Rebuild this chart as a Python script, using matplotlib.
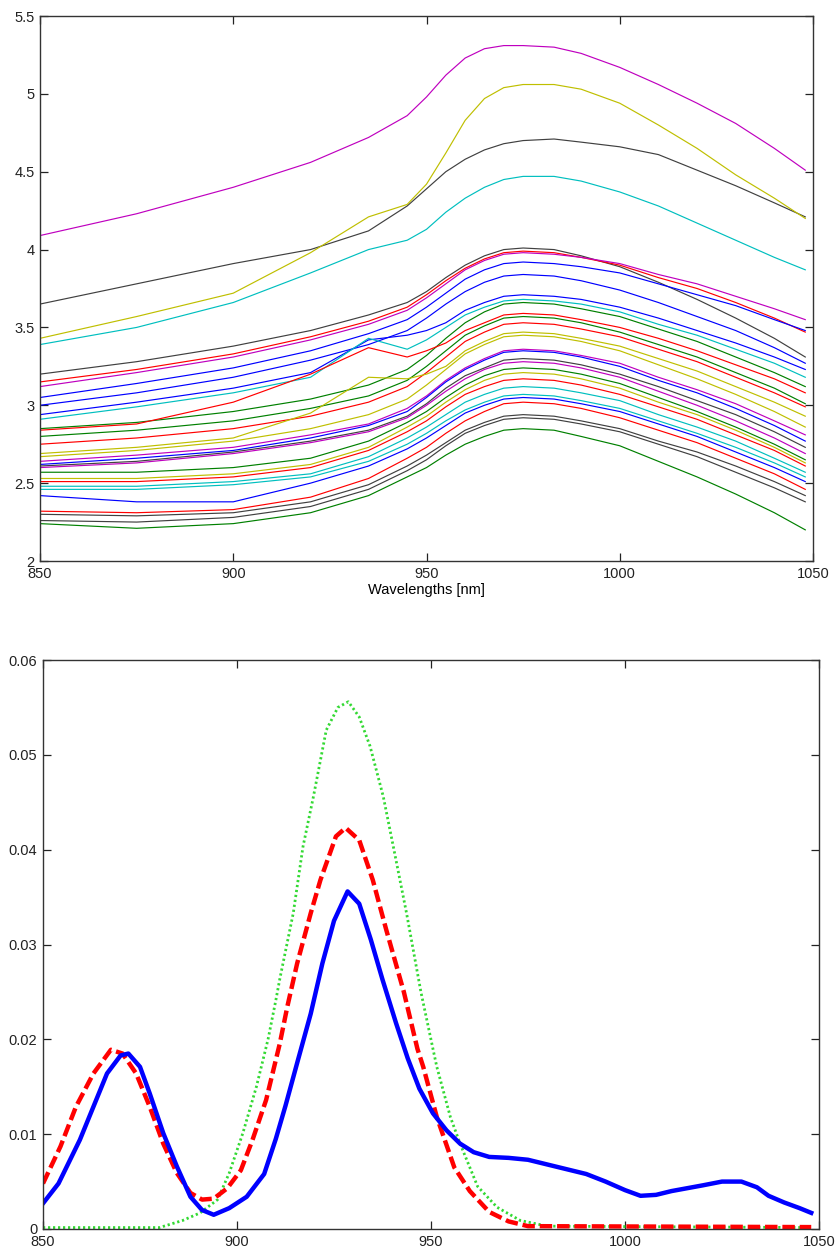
import matplotlib
matplotlib.use("Agg")
import matplotlib.pyplot as plt

plt.rcParams['font.family'] = ['Liberation Sans', 'DejaVu Sans']

# ---------------- top panel data ----------------
wavelengths_top = [850, 875, 900, 920, 935, 945, 950, 955, 960, 965, 970, 975, 983, 990,
                   1000, 1010, 1020, 1030, 1040, 1048]

s01 = [4.09, 4.23, 4.40, 4.56, 4.72, 4.86, 4.98, 5.12, 5.23, 5.29, 5.31, 5.31, 5.30, 5.26, 5.17, 5.06, 4.94, 4.81, 4.65, 4.51]
s02 = [3.65, 3.78, 3.91, 4.00, 4.12, 4.28, 4.39, 4.50, 4.58, 4.64, 4.68, 4.70, 4.71, 4.69, 4.66, 4.61, 4.51, 4.41, 4.30, 4.21]
s03 = [3.43, 3.57, 3.72, 3.98, 4.21, 4.29, 4.42, 4.62, 4.83, 4.97, 5.04, 5.06, 5.06, 5.03, 4.94, 4.80, 4.65, 4.48, 4.33, 4.20]
s04 = [3.39, 3.50, 3.66, 3.85, 4.00, 4.06, 4.13, 4.24, 4.33, 4.40, 4.45, 4.47, 4.47, 4.44, 4.37, 4.28, 4.17, 4.06, 3.95, 3.87]
s05 = [3.20, 3.28, 3.38, 3.48, 3.58, 3.66, 3.73, 3.82, 3.90, 3.96, 4.00, 4.01, 4.00, 3.96, 3.89, 3.79, 3.68, 3.56, 3.43, 3.31]
s06 = [3.15, 3.23, 3.33, 3.44, 3.54, 3.63, 3.71, 3.80, 3.88, 3.94, 3.98, 3.99, 3.98, 3.95, 3.90, 3.82, 3.75, 3.66, 3.56, 3.47]
s07 = [3.12, 3.21, 3.31, 3.42, 3.52, 3.61, 3.69, 3.78, 3.87, 3.93, 3.97, 3.98, 3.97, 3.95, 3.91, 3.84, 3.78, 3.70, 3.62, 3.55]
s08 = [3.05, 3.14, 3.24, 3.35, 3.46, 3.55, 3.63, 3.72, 3.81, 3.87, 3.91, 3.92, 3.91, 3.89, 3.85, 3.78, 3.71, 3.64, 3.55, 3.48]
s09 = [3.00, 3.08, 3.18, 3.29, 3.39, 3.48, 3.56, 3.65, 3.73, 3.79, 3.83, 3.84, 3.83, 3.80, 3.74, 3.66, 3.57, 3.48, 3.37, 3.27]
s10 = [2.94, 3.02, 3.11, 3.21, 3.42, 3.45, 3.48, 3.53, 3.61, 3.66, 3.70, 3.71, 3.70, 3.68, 3.63, 3.56, 3.48, 3.40, 3.31, 3.23]
s11 = [2.91, 2.99, 3.08, 3.18, 3.43, 3.36, 3.42, 3.50, 3.58, 3.63, 3.67, 3.68, 3.67, 3.65, 3.60, 3.52, 3.45, 3.36, 3.27, 3.18]
s12 = [2.85, 2.89, 2.96, 3.04, 3.13, 3.23, 3.32, 3.43, 3.53, 3.60, 3.65, 3.66, 3.65, 3.62, 3.57, 3.49, 3.41, 3.31, 3.21, 3.12]
s13 = [2.84, 2.88, 3.02, 3.20, 3.37, 3.31, 3.35, 3.40, 3.48, 3.53, 3.58, 3.59, 3.58, 3.55, 3.50, 3.43, 3.35, 3.26, 3.17, 3.08]
s14 = [2.80, 2.84, 2.90, 2.98, 3.06, 3.16, 3.25, 3.35, 3.45, 3.51, 3.56, 3.57, 3.56, 3.53, 3.47, 3.39, 3.31, 3.21, 3.11, 3.01]
s15 = [2.75, 2.79, 2.85, 2.93, 3.02, 3.12, 3.21, 3.31, 3.41, 3.47, 3.52, 3.53, 3.52, 3.49, 3.44, 3.36, 3.28, 3.18, 3.08, 2.99]
s16 = [2.69, 2.73, 2.79, 2.95, 3.18, 3.17, 3.20, 3.25, 3.35, 3.41, 3.46, 3.47, 3.46, 3.43, 3.38, 3.30, 3.22, 3.12, 3.02, 2.93]
s17 = [2.67, 2.71, 2.77, 2.85, 2.94, 3.04, 3.13, 3.23, 3.33, 3.39, 3.44, 3.45, 3.44, 3.41, 3.35, 3.26, 3.17, 3.07, 2.96, 2.86]
s18 = [2.64, 2.68, 2.73, 2.81, 2.88, 2.98, 3.06, 3.16, 3.24, 3.30, 3.35, 3.36, 3.35, 3.32, 3.27, 3.18, 3.10, 3.01, 2.90, 2.81]
s19 = [2.62, 2.66, 2.71, 2.79, 2.87, 2.96, 3.05, 3.15, 3.23, 3.29, 3.34, 3.35, 3.34, 3.31, 3.25, 3.16, 3.08, 2.98, 2.87, 2.77]
s20 = [2.61, 2.64, 2.70, 2.77, 2.84, 2.93, 3.01, 3.11, 3.19, 3.24, 3.29, 3.30, 3.29, 3.26, 3.20, 3.12, 3.03, 2.94, 2.83, 2.73]
s21 = [2.60, 2.63, 2.69, 2.76, 2.83, 2.92, 3.00, 3.09, 3.17, 3.23, 3.27, 3.28, 3.27, 3.24, 3.18, 3.09, 3.00, 2.90, 2.79, 2.69]
s22 = [2.57, 2.57, 2.60, 2.66, 2.77, 2.89, 2.96, 3.05, 3.13, 3.19, 3.23, 3.24, 3.23, 3.20, 3.14, 3.05, 2.96, 2.86, 2.75, 2.65]
s23 = [2.53, 2.53, 2.56, 2.62, 2.73, 2.86, 2.93, 3.02, 3.10, 3.16, 3.20, 3.21, 3.20, 3.17, 3.11, 3.02, 2.94, 2.84, 2.73, 2.63]
s24 = [2.51, 2.51, 2.54, 2.60, 2.71, 2.83, 2.90, 2.99, 3.07, 3.12, 3.16, 3.17, 3.16, 3.13, 3.07, 2.99, 2.91, 2.81, 2.71, 2.61]
s25 = [2.48, 2.48, 2.51, 2.56, 2.67, 2.79, 2.86, 2.94, 3.02, 3.07, 3.11, 3.12, 3.11, 3.08, 3.03, 2.94, 2.86, 2.77, 2.66, 2.57]
s26 = [2.46, 2.46, 2.49, 2.54, 2.64, 2.75, 2.82, 2.90, 2.97, 3.02, 3.06, 3.07, 3.06, 3.03, 2.98, 2.90, 2.82, 2.73, 2.63, 2.54]
s27 = [2.42, 2.38, 2.38, 2.50, 2.61, 2.72, 2.79, 2.87, 2.95, 3.00, 3.04, 3.05, 3.04, 3.01, 2.96, 2.88, 2.80, 2.70, 2.60, 2.51]
s28 = [2.32, 2.31, 2.33, 2.41, 2.53, 2.66, 2.73, 2.82, 2.90, 2.96, 3.01, 3.02, 3.01, 2.98, 2.92, 2.84, 2.76, 2.66, 2.56, 2.46]
s29 = [2.30, 2.29, 2.31, 2.38, 2.49, 2.61, 2.68, 2.76, 2.84, 2.89, 2.93, 2.94, 2.93, 2.90, 2.85, 2.77, 2.70, 2.61, 2.51, 2.42]
s30 = [2.26, 2.25, 2.28, 2.35, 2.46, 2.58, 2.65, 2.74, 2.82, 2.87, 2.91, 2.92, 2.91, 2.88, 2.83, 2.75, 2.67, 2.57, 2.47, 2.38]
s31 = [2.24, 2.21, 2.24, 2.31, 2.42, 2.54, 2.60, 2.68, 2.75, 2.80, 2.84, 2.85, 2.84, 2.80, 2.74, 2.64, 2.54, 2.43, 2.31, 2.20]

spectra = [s01, s02, s03, s04, s05, s06, s07, s08, s09, s10, s11, s12, s13, s14, s15, s16,
           s17, s18, s19, s20, s21, s22, s23, s24, s25, s26, s27, s28, s29, s30, s31]
spectra_colors = ['m', 'k', 'y', 'c', 'k', 'r', 'm', 'b', 'b', 'b', 'c', 'g', 'r', 'g', 'r', 'y',
                  'y', 'm', 'b', 'k', 'm', 'g', 'y', 'r', 'c', 'c', 'b', 'r', 'k', 'k', 'g']

top_xticks = [850, 900, 950, 1000, 1050]
top_yticks = [2, 2.5, 3, 3.5, 4, 4.5, 5, 5.5]
top_yticklabels = ['2', '2.5', '3', '3.5', '4', '4.5', '5', '5.5']

# ---------------- bottom panel data ----------------
blue_x = [850, 854, 859.5, 863, 866.5, 870, 872, 875, 877.5, 881, 884.5, 888, 891, 894, 898,
          902.5, 907, 910, 912.5, 915.5, 919, 922, 925, 928.5, 931.5, 934.5, 937.5, 941, 944,
          947, 950.5, 954, 957.5, 961, 965, 970, 975, 980, 985, 990, 995, 1000, 1004, 1008,
          1012, 1016, 1020, 1025, 1030, 1034, 1037, 1041, 1045, 1048]
blue_y = [0.0027, 0.0048, 0.0094, 0.0129, 0.0164, 0.0183, 0.0185, 0.0171, 0.0143, 0.0101,
          0.0066, 0.0034, 0.0020, 0.0015, 0.0022, 0.0034, 0.0058, 0.0095, 0.0130, 0.0175,
          0.0227, 0.0280, 0.0325, 0.0356, 0.0343, 0.0305, 0.0263, 0.0217, 0.0180, 0.0148,
          0.0122, 0.0104, 0.0090, 0.0081, 0.0076, 0.0075, 0.0073, 0.0068, 0.0063, 0.0058,
          0.0050, 0.0041, 0.0035, 0.0036, 0.0040, 0.0043, 0.0046, 0.0050, 0.0050, 0.0044,
          0.0035, 0.0028, 0.0022, 0.0017]

red_x = [850, 854.5, 858.5, 863, 867.5, 870.5, 874, 877.5, 881, 884.5, 888, 891, 894, 897.5,
         901, 904, 907.5, 911, 913, 915.5, 919, 921.5, 925.5, 928, 931.5, 935, 938.5, 943,
         946.5, 948, 951.5, 956, 960, 965, 970, 975, 1048]
red_y = [0.0048, 0.0087, 0.0129, 0.0164, 0.0189, 0.0185, 0.0164, 0.0129, 0.0090, 0.0059,
         0.0038, 0.0031, 0.0032, 0.0043, 0.0062, 0.0094, 0.0136, 0.0195, 0.0235, 0.0280,
         0.0333, 0.0368, 0.0414, 0.0423, 0.0410, 0.0368, 0.0315, 0.0250, 0.0190, 0.0171,
         0.0118, 0.0065, 0.0040, 0.0018, 0.0008, 0.0003, 0.0002]

green_x = [850, 880, 882, 886, 890.5, 895, 898, 901.5, 905, 908, 910, 911, 914.5, 917, 919.7,
           923, 926, 928.7, 931.5, 934.3, 937.7, 940.3, 943.7, 947.4, 950.5, 951.5, 955, 957.5,
           962, 967, 973, 980, 1048]
green_y = [0.00015, 0.00015, 0.0004, 0.0009, 0.0017, 0.0031, 0.0059, 0.0101, 0.0150, 0.0200,
           0.0241, 0.0263, 0.0333, 0.0403, 0.0456, 0.0526, 0.0550, 0.0556, 0.0540, 0.0509,
           0.0456, 0.0403, 0.0333, 0.0250, 0.0190, 0.0171, 0.0118, 0.0090, 0.0045, 0.0023,
           0.0009, 0.0003, 0.00015]

bottom_xticks = [850, 900, 950, 1000, 1050]
bottom_yticks = [0, 0.01, 0.02, 0.03, 0.04, 0.05, 0.06]
bottom_yticklabels = ['0', '0.01', '0.02', '0.03', '0.04', '0.05', '0.06']

# ---------------- styling ----------------
matlab_colors = {
    'b': (0.0, 0.0, 1.0),
    'g': (0.0, 0.5, 0.0),
    'r': (1.0, 0.0, 0.0),
    'c': (0.0, 0.75, 0.75),
    'm': (0.75, 0.0, 0.75),
    'y': (0.75, 0.75, 0.0),
    'k': (0.25, 0.25, 0.25),
}
spine_color = '#333333'
tick_fs = 10.5

fig = plt.figure(figsize=(8.37, 12.54), dpi=100)


def style_axes(ax):
    for sp in ax.spines.values():
        sp.set_color(spine_color)
        sp.set_linewidth(1.0)
    ax.tick_params(direction='in', top=True, right=True, length=5.5, width=0.9,
                   colors='#222222', labelsize=tick_fs, pad=4)


# top panel
ax1 = fig.add_axes([40 / 837, 1 - 561 / 1254, (813 - 40) / 837, (561 - 16) / 1254])
for vals, c in zip(spectra, spectra_colors):
    ax1.plot(wavelengths_top, vals, color=matlab_colors[c], lw=0.85)
ax1.set_xlim(850, 1050)
ax1.set_ylim(2, 5.5)
ax1.set_xticks(top_xticks)
ax1.set_xticklabels([str(t) for t in top_xticks])
ax1.set_yticks(top_yticks)
ax1.set_yticklabels(top_yticklabels)
ax1.set_xlabel('Wavelengths [nm]', fontsize=tick_fs, labelpad=2)
style_axes(ax1)

# bottom panel
ax2 = fig.add_axes([43 / 837, 1 - 1229 / 1254, (819 - 43) / 837, (1229 - 660) / 1254])
ax2.plot(green_x, green_y, color=(0.2, 0.85, 0.2), lw=2.0, linestyle=(0, (0.8, 1.0)))
ax2.plot(red_x, red_y, color=(1.0, 0.0, 0.0), lw=3.2, linestyle=(0, (2.8, 1.1)))
ax2.plot(blue_x, blue_y, color=(0.0, 0.0, 1.0), lw=3.2)
ax2.set_xlim(850, 1050)
ax2.set_ylim(0, 0.06)
ax2.set_xticks(bottom_xticks)
ax2.set_xticklabels([str(t) for t in bottom_xticks])
ax2.set_yticks(bottom_yticks)
ax2.set_yticklabels(bottom_yticklabels)
style_axes(ax2)

fig.savefig('out.png', dpi=100)
